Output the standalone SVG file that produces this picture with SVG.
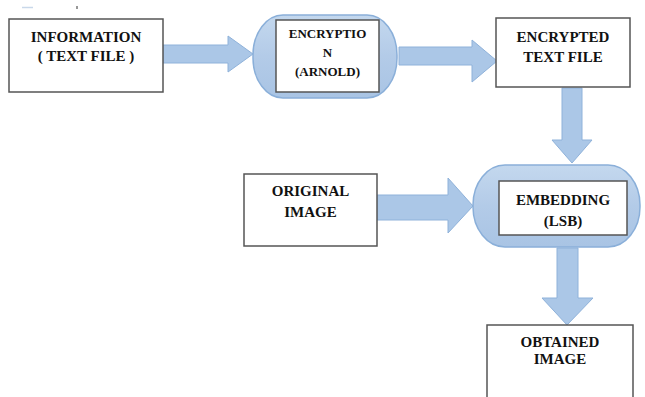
<svg xmlns="http://www.w3.org/2000/svg" width="645" height="397" viewBox="0 0 645 397">
<defs>
<linearGradient id="pillGrad" x1="0" y1="0" x2="0" y2="1">
<stop offset="0" stop-color="#c4d8ee"/>
<stop offset="0.5" stop-color="#b3cbe8"/>
<stop offset="1" stop-color="#a9c4e4"/>
</linearGradient>
</defs>
<style>
.box{fill:#ffffff;stroke:#555555;stroke-width:1.5}
.pill{fill:url(#pillGrad);stroke:#8aafd9;stroke-width:1.5}
.arrow{fill:#abc7e7;stroke:#8fb2da;stroke-width:1}
text{font-weight:bold;font-size:15px;fill:#111111;text-anchor:middle}
.s{font-size:13px}
</style>
<rect x="0" y="0" width="645" height="397" fill="#ffffff"/>
<line x1="22" y1="7.5" x2="33" y2="7.5" stroke="#c9d8ea" stroke-width="1.5"/>
<line x1="77" y1="6" x2="77" y2="9" stroke="#333" stroke-width="1"/>
<g id="connectors">
<path class="arrow" d="M163,45 H228 V36 L253,54 L228,72 V63 H163 Z"/>
<path class="arrow" d="M399,47 H472 V40 L497,61 L472,82 V65 H399 Z"/>
<path class="arrow" d="M562,88 V140 H552 L572,163 L592,140 H582 V88 Z"/>
<path class="arrow" d="M377,195 H448 V178 L473,206 L448,233 V220 H377 Z"/>
<path class="arrow" d="M557,248 V298 H542 L567,325 L593,298 H578 V248 Z"/>
</g>
<g font-family="'Liberation Serif', 'Times New Roman', serif">
<g id="information">
<rect class="box" x="9" y="19" width="154" height="73"/>
<text x="86" y="42">INFORMATION</text>
<text x="86" y="61">( TEXT FILE )</text>
</g>
<g id="encryption">
<rect class="pill" x="253" y="15" width="144" height="83" rx="30" ry="40"/>
<rect class="box" x="276" y="20" width="103" height="72"/>
<text class="s" x="327.5" y="38">ENCRYPTIO</text>
<text class="s" x="327.5" y="57">N</text>
<text class="s" x="327.5" y="76">(ARNOLD)</text>
</g>
<g id="encrypted">
<rect class="box" x="496" y="18" width="134" height="69"/>
<text x="563" y="42">ENCRYPTED</text>
<text x="563" y="62">TEXT FILE</text>
</g>
<g id="original">
<rect class="box" x="244" y="174" width="133" height="72"/>
<text x="310.5" y="196">ORIGINAL</text>
<text x="310.5" y="217">IMAGE</text>
</g>
<g id="embedding">
<rect class="pill" x="473" y="165" width="167" height="82" rx="32" ry="40"/>
<rect class="box" x="499" y="181" width="128" height="54"/>
<text x="563" y="205">EMBEDDING</text>
<text x="563" y="226">(LSB)</text>
</g>
<g id="obtained">
<path class="box" d="M487,400 V325 H633 V400"/>
<text x="560" y="347">OBTAINED</text>
<text x="560" y="364">IMAGE</text>
</g>
</g>
</svg>
